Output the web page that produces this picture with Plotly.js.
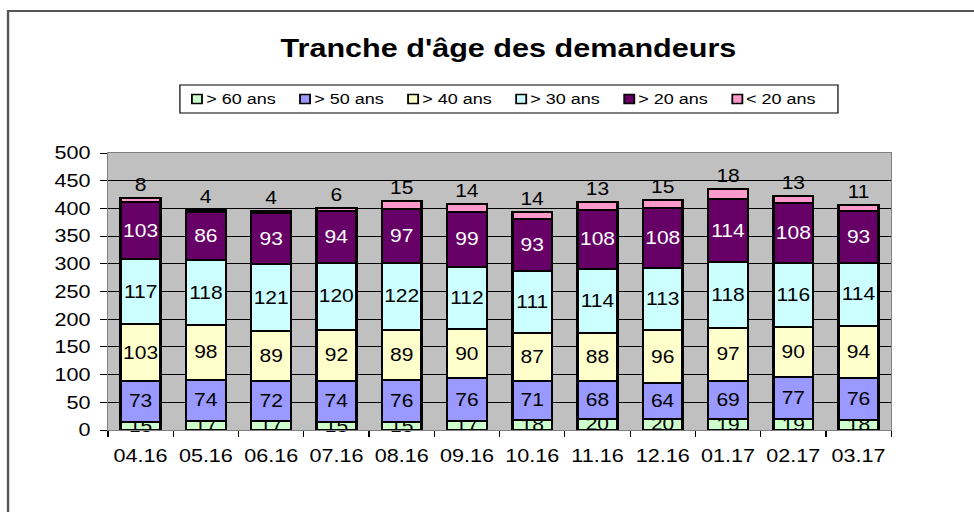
<!DOCTYPE html>
<html>
<head>
<meta charset="utf-8">
<script src="https://cdn.plot.ly/plotly-3.0.1.min.js"></script>
<style>
  html, body { margin: 0; padding: 0; background: #ffffff; overflow: hidden; }
  #chart { width: 812px; height: 512px; transform: scaleX(1.1995); transform-origin: 0 0; }
</style>
</head>
<body>
<div id="chart"></div>
<script>
const months = ["04.16","05.16","06.16","07.16","08.16","09.16","10.16","11.16","12.16","01.17","02.17","03.17"];
const over60 = [15,17,17,15,15,17,18,20,20,19,19,18];
const over50 = [73,74,72,74,76,76,71,68,64,69,77,76];
const over40 = [103,98,89,92,89,90,87,88,96,97,90,94];
const over30 = [117,118,121,120,122,112,111,114,113,118,116,114];
const over20 = [103,86,93,94,97,99,93,108,108,114,108,93];
const under20 = [8,4,4,6,15,14,14,13,15,18,13,11];
const seriesNames = ["> 60 ans","> 50 ans","> 40 ans","> 30 ans","> 20 ans","< 20 ans"];
const seriesColors = ["#CCFFCC","#9999FF","#FFFFCC","#CCFFFF","#660066","#FF99CC"];
const yTicks = [0,50,100,150,200,250,300,350,400,450,500];

const FONT = "Liberation Sans, Arial, sans-serif";
const allSeries = [over60, over50, over40, over30, over20, under20];

const traces = allSeries.map((vals, i) => ({
  type: "bar",
  name: seriesNames[i],
  x: months,
  y: vals,
  text: vals.map(String),
  textposition: i === 5 ? "outside" : "inside",
  insidetextanchor: "middle",
  textangle: 0,
  constraintext: "none",
  cliponaxis: false,
  textfont: { family: FONT, size: 17.5, color: i === 4 ? "#ffffff" : "#000000" },
  outsidetextfont: { family: FONT, size: 17.5, color: "#000000" },
  marker: { color: seriesColors[i], line: { color: "#000000", width: 2 } },
  hoverinfo: "skip",
  showlegend: false
}));

// plot-area geometry (unscaled px) used to place the legend box in paper units
const W = 812, H = 512, ML = 90, MR = 69, MT = 153, MB = 82;
const PW = W - ML - MR, PH = H - MT - MB;
const px2x = v => (v - ML) / PW;
const px2y = v => (H - MB - v) / PH;

const shapes = [];
const annotations = [];

// outer chart border
shapes.push({
  type: "rect", xref: "paper", yref: "paper",
  x0: px2x(6.7), x1: 1.3, y0: -0.5, y1: px2y(11),
  line: { color: "#555555", width: 2 }, fillcolor: "rgba(0,0,0,0)", layer: "above"
});

// legend box + entries
const legL = 150, legR = 698.6, legT = 85, legB = 113, legMid = 99;
const firstSym = 164.2, symStep = 90.1, symHalfW = 4.2, symHalfH = 4.5;
shapes.push({
  type: "rect", xref: "paper", yref: "paper",
  x0: px2x(legL), x1: px2x(legR), y0: px2y(legB), y1: px2y(legT),
  line: { color: "#000000", width: 1 }, fillcolor: "#ffffff", layer: "above"
});
seriesNames.forEach((nm, i) => {
  const cx = firstSym + i * symStep;
  shapes.push({
    type: "rect", xref: "paper", yref: "paper",
    x0: px2x(cx - symHalfW), x1: px2x(cx + symHalfW),
    y0: px2y(legMid + symHalfH), y1: px2y(legMid - symHalfH),
    line: { color: "#000000", width: 1.5 }, fillcolor: seriesColors[i], layer: "above"
  });
  annotations.push({
    xref: "paper", yref: "paper",
    x: px2x(cx + symHalfW + 1.5), y: px2y(legMid),
    xanchor: "left", yanchor: "middle",
    text: nm, showarrow: false,
    font: { family: FONT, size: 15, color: "#000000" }
  });
});

const layout = {
  width: W,
  height: H,
  barmode: "stack",
  bargap: 0.39,
  paper_bgcolor: "#ffffff",
  plot_bgcolor: "#C0C0C0",
  margin: { l: ML, r: MR, t: MT, b: MB },
  font: { family: FONT, color: "#000000" },
  title: {
    text: "Tranche d'âge des demandeurs",
    font: { family: FONT, size: 25.5, weight: "bold", color: "#000000" },
    xref: "container", x: 0.522, xanchor: "center",
    yref: "container", y: 0.906, yanchor: "middle"
  },
  showlegend: false,
  xaxis: {
    type: "category",
    tickson: "boundaries",
    ticks: "outside",
    ticklen: 6,
    tickcolor: "#000000",
    showline: true,
    linecolor: "#808080",
    linewidth: 1,
    mirror: true,
    showgrid: false,
    tickfont: { family: FONT, size: 18, color: "#000000" },
    ticklabelstandoff: 9,
    fixedrange: true
  },
  yaxis: {
    range: [0, 500],
    tickvals: yTicks,
    ticktext: yTicks.map(String),
    ticks: "outside",
    ticklen: 6,
    tickcolor: "#000000",
    showline: true,
    linecolor: "#808080",
    linewidth: 1,
    mirror: true,
    showgrid: true,
    gridcolor: "#000000",
    gridwidth: 1,
    zeroline: false,
    tickfont: { family: FONT, size: 18, color: "#000000" },
    ticklabelstandoff: 4,
    fixedrange: true
  },
  shapes: shapes,
  annotations: annotations,
  hovermode: false
};

Plotly.newPlot("chart", traces, layout, { displayModeBar: false, staticPlot: true });
</script>
</body>
</html>
